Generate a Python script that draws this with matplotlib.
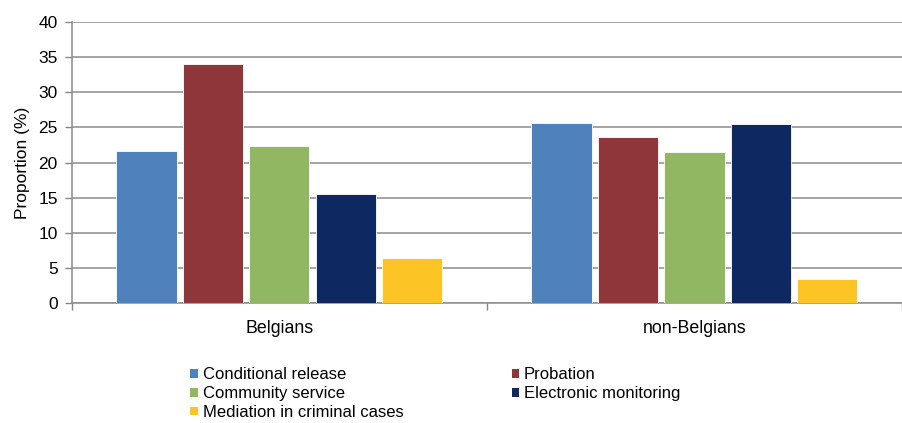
import matplotlib
matplotlib.use("Agg")
import matplotlib.pyplot as plt
import numpy as np
from matplotlib.patches import Patch

plt.rcParams['font.family'] = ['Liberation Sans', 'DejaVu Sans']

categories = ["Belgians", "non-Belgians"]
series_names = ["Conditional release", "Probation", "Community service",
                "Electronic monitoring", "Mediation in criminal cases"]
conditional_release = [21.7, 25.6]
probation = [34.0, 23.7]
community_service = [22.3, 21.5]
electronic_monitoring = [15.6, 25.5]
mediation = [6.5, 3.5]
colors = ["#4F81BD", "#8E363A", "#92B762", "#0E2862", "#FDC426"]

values = [conditional_release, probation, community_service,
          electronic_monitoring, mediation]

W, H = 902, 423
fig = plt.figure(figsize=(W / 100, H / 100), dpi=100)
left, right, top, bottom = 71.7, 902, 22, 303.3
ax = fig.add_axes([left / W, 1 - bottom / H, (right - left) / W, (bottom - top) / H])

x = np.arange(len(categories))
pitch = 0.16
width = 0.145
for i, (vals, c) in enumerate(zip(values, colors)):
    ax.bar(x + (i - 2) * pitch, vals, width=width, color=c, zorder=3,
           edgecolor='white', linewidth=0.6)

cat_w = 417.6
ax.set_xlim(-0.5, -0.5 + (right - left) / cat_w)
ax.set_ylim(0, 40)
ax.set_yticks(range(0, 41, 5))
ax.tick_params(axis='y', labelsize=12.5, length=5, color='#888888', width=1, pad=5)
ax.yaxis.grid(True, color='#8c8c8c', linewidth=1.1, zorder=0)
ax.set_axisbelow(True)

ax.set_xticks([-0.5, 0.5, 1.5])
ax.set_xticklabels([])
ax.tick_params(axis='x', length=5, color='#888888', width=1)
for xi, lab in zip(x, categories):
    ax.text(xi, -2.4, lab, ha='center', va='top', fontsize=12.8,
            transform=ax.transData, clip_on=False)

for s in ['top', 'right']:
    ax.spines[s].set_visible(False)
for s in ['left', 'bottom']:
    ax.spines[s].set_color('#8c8c8c')
    ax.spines[s].set_linewidth(1.1)

ax.set_ylabel("Proportion (%)", fontsize=12.5, labelpad=6)

handles = [Patch(facecolor=c, edgecolor='none') for c in colors]
order = [0, 2, 4, 1, 3]
leg = fig.legend([handles[i] for i in order], [series_names[i] for i in order],
                 loc='upper left', bbox_to_anchor=(182 / W, 1 - 359 / H),
                 ncol=2, frameon=False, fontsize=12,
                 handlelength=0.44, handleheight=0.44, handletextpad=0.3,
                 labelspacing=0.23, columnspacing=6.5, borderpad=0)

fig.savefig("out.png", dpi=100)
